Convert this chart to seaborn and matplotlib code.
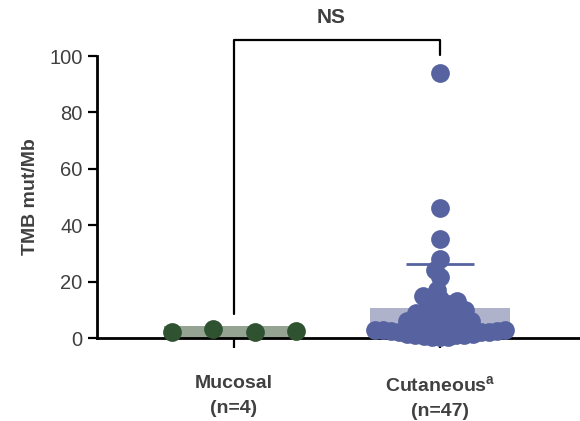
import matplotlib
matplotlib.use("Agg")
import matplotlib.pyplot as plt
import seaborn as sns
import pandas as pd
import numpy as np

# ---- data ----
groups = ["Mucosal", "Cutaneous"]
group_labels = ["Mucosal\n(n=4)", "Cutaneous$^{\\mathregular{a}}$\n(n=47)"]
mucosal_tmb = [2.1, 3.2, 2.1, 2.6]
cutaneous_tmb = [94, 46, 35, 28, 24, 21.5,
                 17, 15, 14, 13, 12.5, 12, 11, 10, 10, 9,
                 9, 8, 8, 7, 7, 6, 6, 5, 5, 5,
                 4.5, 4, 4, 3.5, 3, 3, 3, 2.5, 2.5, 2,
                 2, 2, 1.5, 1.5, 1, 1, 1, 0.8, 0.5, 0.5,
                 0.3]
bar_values = [4.3, 10.8]
sd_upper = [None, 26.3]
yticks = [0, 20, 40, 60, 80, 100]
sig_label = "NS"

dot_colors = {"Mucosal": "#2f5231", "Cutaneous": "#5663a0"}
bar_colors = {"Mucosal": "#93a68f", "Cutaneous": "#a9afd0"}

sns.set_style("white")
plt.rcParams["font.family"] = ["Liberation Sans", "DejaVu Sans"]
plt.rcParams["mathtext.fontset"] = "custom"
plt.rcParams["mathtext.rm"] = "Liberation Sans:bold"

muc = pd.DataFrame({"group": "Mucosal", "tmb": mucosal_tmb,
                    "sample": [f"M{i}" for i in range(len(mucosal_tmb))]})
cut = pd.DataFrame({"group": "Cutaneous", "tmb": cutaneous_tmb})
bars = pd.DataFrame({"group": groups, "value": bar_values})

fig = plt.figure(figsize=(5.8, 4.21), dpi=100)
ax = fig.add_axes([97 / 580, 83 / 421, 483 / 580, 282 / 421])

sns.barplot(data=bars, x="group", y="value", hue="group", order=groups,
            palette=bar_colors, width=0.68, ax=ax, legend=False,
            edgecolor="none", zorder=1)
n_bar_colls = len(ax.collections)

# Mucosal: one dot per sample, spread evenly across the bar
sns.stripplot(data=muc, x="group", y="tmb", order=groups, hue="sample",
              palette=[dot_colors["Mucosal"]] * len(mucosal_tmb),
              dodge=True, jitter=False, size=13.5, linewidth=0,
              ax=ax, legend=False, zorder=3)
# Cutaneous: beeswarm laid out with a small marker size, drawn larger (overlapping)
n_before = len(ax.collections)
sns.swarmplot(data=cut, x="group", y="tmb", order=groups,
              color=dot_colors["Cutaneous"], size=6.6, ax=ax,
              linewidth=0, zorder=3)
fig.canvas.draw()
for coll in ax.collections[n_bar_colls:]:
    if "draw" in coll.__dict__:
        del coll.draw
    coll.set_sizes([13.5 ** 2])
    coll.set_clip_on(False)

# SD line
for i, (g, u) in enumerate(zip(groups, sd_upper)):
    if u is not None:
        ax.plot([i - 0.165, i + 0.165], [u, u], color=dot_colors[g], lw=2, zorder=4,
                solid_capstyle="butt")

# significance bracket
ax.plot([0, 0, 1, 1], [8.5, 105.7, 105.7, 100.5], color="black", lw=1.6,
        clip_on=False, zorder=5)
ax.text(0.47, 113.5, sig_label, ha="center", va="center", fontsize=15,
        fontweight="bold", color="#404040")

ax.set_xlim(-0.665, 1.68)
ax.set_ylim(0, 100)
ax.set_yticks(yticks)
ax.set_yticklabels([str(t) for t in yticks], fontsize=14.5, color="#404040")
ax.set_xticks([0, 1])
ax.set_xticklabels(group_labels, fontsize=14, fontweight="bold", color="#404040",
                   linespacing=1.55)
ax.set_xlabel("")
ax.set_ylabel("TMB mut/Mb", fontsize=14, fontweight="bold", color="#404040",
              labelpad=7)
sns.despine(ax=ax)
for s in ["left", "bottom"]:
    ax.spines[s].set_linewidth(2)
    ax.spines[s].set_color("black")
ax.tick_params(axis="y", length=6.5, width=1.6, color="black", pad=4, left=True)
ax.tick_params(axis="x", length=7, width=1.6, color="black", pad=20, bottom=True)

fig.savefig("out.png", dpi=100, facecolor="white")
